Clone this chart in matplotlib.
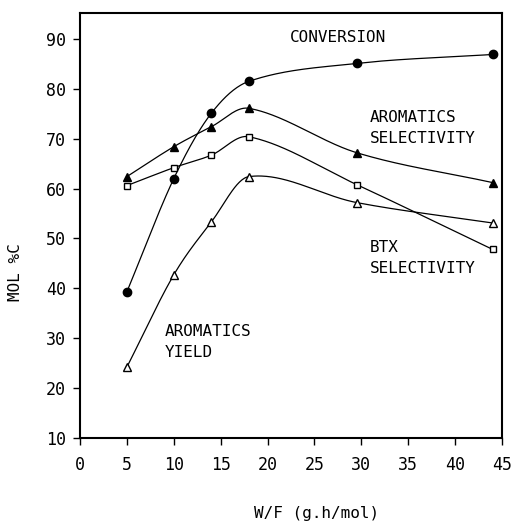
import numpy as np
import matplotlib.pyplot as plt

# W/F values (g.h/mol)
wf = [5, 10, 14, 18, 29.5, 44]

conversion = [39.3, 62.0, 75.1, 81.5, 85.1, 86.9]
arom_sel = [62.4, 68.4, 72.4, 76.1, 67.2, 61.2]
btx_sel = [60.6, 64.2, 66.7, 70.4, 60.8, 47.8]
arom_yield = [24.2, 42.7, 53.3, 62.4, 57.2, 53.1]

xticks = [0, 5, 10, 15, 20, 25, 30, 35, 40, 45]
yticks = [10, 20, 30, 40, 50, 60, 70, 80, 90]


def smooth(x, y, n=300):
    # cardinal-type Hermite curve through the measured points (drawing only)
    x = np.asarray(x, float)
    y = np.asarray(y, float)
    d = np.empty_like(y)
    d[1:-1] = (y[2:] - y[:-2]) / (x[2:] - x[:-2])
    d[0] = (y[1] - y[0]) / (x[1] - x[0])
    d[-1] = (y[-1] - y[-2]) / (x[-1] - x[-2])
    xs = np.linspace(x[0], x[-1], n)
    j = np.clip(np.searchsorted(x, xs) - 1, 0, len(x) - 2)
    h = x[j + 1] - x[j]
    t = (xs - x[j]) / h
    h00 = 2 * t ** 3 - 3 * t ** 2 + 1
    h10 = t ** 3 - 2 * t ** 2 + t
    h01 = -2 * t ** 3 + 3 * t ** 2
    h11 = t ** 3 - t ** 2
    ys = h00 * y[j] + h10 * h * d[j] + h01 * y[j + 1] + h11 * h * d[j + 1]
    return xs, ys


plt.rcParams['font.family'] = ['DejaVu Sans Mono']

fig = plt.figure(figsize=(5.16, 5.22), dpi=100)
ax = fig.add_axes([0.155, 0.161, 0.818, 0.814])

series = [
    (conversion, dict(marker='o', mfc='black', mec='black', ms=6)),
    (arom_sel, dict(marker='^', mfc='black', mec='black', ms=6)),
    (btx_sel, dict(marker='s', mfc='white', mec='black', ms=5)),
    (arom_yield, dict(marker='^', mfc='white', mec='black', ms=6)),
]
for vals, style in series:
    xs, ys = smooth(wf, vals)
    ax.plot(xs, ys, color='black', lw=0.9)
    ax.plot(wf, vals, linestyle='none', mew=1.0, **style)

fs = 11.5
ax.text(22.4, 90.2, 'CONVERSION', fontsize=fs, va='center')
ax.text(30.9, 72.2, 'AROMATICS\nSELECTIVITY', fontsize=fs, va='center', linespacing=1.5)
ax.text(30.9, 46.0, 'BTX\nSELECTIVITY', fontsize=fs, va='center', linespacing=1.5)
ax.text(9.0, 29.3, 'AROMATICS\nYIELD', fontsize=fs, va='center', linespacing=1.5)

ax.set_xlim(0, 45)
ax.set_ylim(10, 95.2)
ax.set_xticks(xticks)
ax.set_yticks(yticks)
ax.tick_params(direction='out', length=5, width=1, labelsize=12)
ax.tick_params(axis='x', pad=8)
ax.tick_params(axis='y', pad=5)
for s in ax.spines.values():
    s.set_linewidth(1.5)

ax.set_xlabel('W/F (g.h/mol)', fontsize=11.5)
ax.set_ylabel('MOL %C', fontsize=11.5)
ax.xaxis.set_label_coords(0.56, -0.16)
ax.yaxis.set_label_coords(-0.135, 0.39)

fig.savefig('out.png', dpi=100)
